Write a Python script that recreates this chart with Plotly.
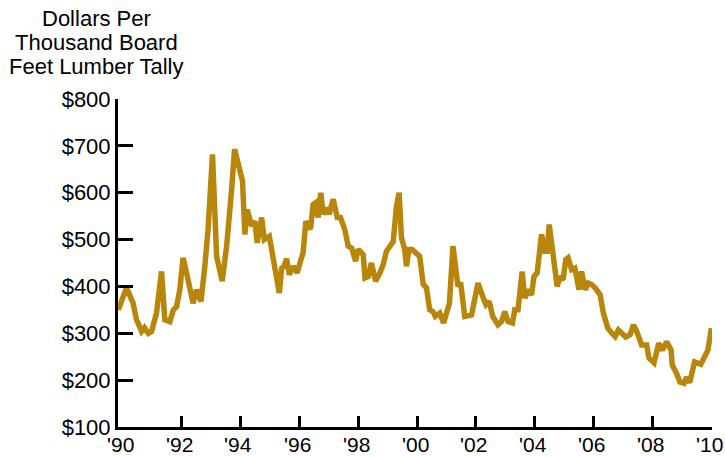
import plotly.graph_objects as go

# Decimal-year positions and lumber prices (dollars per thousand board feet)
years = [
    1989.85, 1990.13, 1990.35, 1990.47, 1990.64, 1990.74, 1990.87, 1990.98,
    1991.15, 1991.32, 1991.43, 1991.60, 1991.72, 1991.83, 1991.94,
    1992.05, 1992.17, 1992.28, 1992.39, 1992.51, 1992.66, 1992.79, 1992.90,
    1993.05, 1993.19, 1993.38, 1993.53, 1993.70, 1993.80,
    1994.07, 1994.15, 1994.23, 1994.38, 1994.49, 1994.57, 1994.72, 1994.81, 1994.98,
    1995.17, 1995.32, 1995.40, 1995.48, 1995.57, 1995.66, 1995.79, 1995.93,
    1996.02, 1996.13, 1996.22, 1996.38, 1996.47, 1996.56, 1996.64, 1996.73, 1996.81, 1996.92,
    1997.01, 1997.15, 1997.29, 1997.40, 1997.55, 1997.66, 1997.78, 1997.91,
    1998.00, 1998.17, 1998.23, 1998.34, 1998.45, 1998.59, 1998.74, 1998.85, 1998.96,
    1999.08, 1999.19, 1999.30, 1999.39, 1999.47, 1999.58, 1999.64, 1999.72, 1999.83, 1999.95,
    2000.09, 2000.21, 2000.32, 2000.43, 2000.54, 2000.62, 2000.77, 2000.90, 2000.99,
    2001.10, 2001.22, 2001.39, 2001.48, 2001.62, 2001.85,
    2002.07, 2002.25, 2002.34, 2002.45, 2002.57, 2002.75, 2002.87, 2002.98,
    2003.09, 2003.24, 2003.32, 2003.43, 2003.57, 2003.66, 2003.77, 2003.89, 2003.97,
    2004.08, 2004.23, 2004.34, 2004.42, 2004.49, 2004.68, 2004.76, 2004.85, 2004.96,
    2005.05, 2005.13, 2005.25, 2005.36, 2005.42, 2005.50, 2005.59, 2005.71, 2005.82, 2005.93,
    2006.05, 2006.22, 2006.33, 2006.48, 2006.62, 2006.73, 2006.84, 2006.96,
    2007.09, 2007.24, 2007.35, 2007.46, 2007.63, 2007.80, 2007.88,
    2008.05, 2008.21, 2008.33, 2008.48, 2008.63, 2008.67, 2008.82, 2008.93,
    2009.07, 2009.15, 2009.26, 2009.34, 2009.43, 2009.64, 2009.75, 2009.88, 2010.00,
]
prices = [
    350, 397, 365, 329, 304, 312, 300, 304,
    344, 432, 329, 325, 350, 357, 393,
    461, 429, 393, 364, 393, 368, 443, 522,
    682, 464, 411, 486, 607, 693,
    625, 511, 564, 529, 539, 493, 547, 500, 507,
    436, 386, 439, 443, 459, 425, 443, 429,
    450, 472, 539, 522, 575, 579, 547, 600, 554, 568,
    554, 586, 547, 547, 520, 486, 482, 454,
    479, 468, 418, 421, 450, 411, 429, 447, 475,
    489, 496, 571, 600, 504, 479, 443, 479, 479, 472,
    464, 404, 397, 350, 346, 336, 343, 322, 343,
    364, 486, 400, 408, 336, 339,
    407, 375, 361, 368, 336, 318, 325, 346,
    325, 322, 350, 350, 432, 375, 393, 382, 421,
    429, 511, 475, 475, 532, 421, 400, 421, 414,
    457, 461, 436, 439, 421, 393, 432, 393, 407, 404,
    397, 382, 343, 311, 300, 293, 307, 300,
    292, 297, 318, 304, 275, 275, 247,
    237, 279, 264, 282, 264, 232, 214, 196,
    193, 206, 195, 222, 239, 234, 247, 264, 311,
]

label_years = [1990, 1992, 1994, 1996, 1998, 2000, 2002, 2004, 2006, 2008, 2010]
label_text = ["'90", "'92", "'94", "'96", "'98", "'00", "'02", "'04", "'06", "'08", "'10"]
tick_years = [1992, 1994, 1996, 1998, 2000, 2002, 2004, 2006, 2008, 2010]
y_ticks = [100, 200, 300, 400, 500, 600, 700, 800]
y_text = ["$100", "$200", "$300", "$400", "$500", "$600", "$700", "$800"]
title_lines = ["Dollars Per", "Thousand Board", "Feet Lumber Tally"]

FONT = "Liberation Sans, Arial, Helvetica, sans-serif"
GOLD = "#B8860B"
X_RANGE = [1989.84, 2010.02]
PLOT_H = 327.4

fig = go.Figure()
fig.add_trace(go.Scatter(
    x=years, y=prices, mode="lines",
    line=dict(color=GOLD, width=5.5),
    hoverinfo="skip", showlegend=False,
))

fig.update_layout(
    width=725, height=457,
    margin=dict(l=118, r=13, t=99, b=30, autoexpand=False),
    paper_bgcolor="white", plot_bgcolor="white",
    font=dict(family=FONT, size=22, color="black"),
    xaxis=dict(
        range=X_RANGE, automargin=False,
        tickmode="array", tickvals=tick_years,
        ticks="inside", ticklen=11, tickwidth=3, tickcolor="black",
        showticklabels=False,
        showline=True, linewidth=3, linecolor="black",
        showgrid=False, zeroline=False,
    ),
    yaxis=dict(
        range=[100, 800], automargin=False,
        tickmode="array", tickvals=y_ticks, ticktext=y_text,
        ticks="inside", ticklen=15, tickwidth=3, tickcolor="black",
        showline=True, linewidth=3, linecolor="black",
        showgrid=False, zeroline=False,
        tickfont=dict(family=FONT, size=22, color="black"),
    ),
)

# x-axis year labels ('90 has no tick mark in the original)
for yr, txt in zip(label_years, label_text):
    fig.add_annotation(
        text=txt, xref="x", yref="paper", x=yr, y=(426.7 - 444.5) / PLOT_H,
        xanchor="center", yanchor="middle", xshift=-2, showarrow=False,
        font=dict(family=FONT, size=21, color="black"),
    )

centers_px = [18.5, 42.5, 66.5]
for txt, cy in zip(title_lines, centers_px):
    fig.add_annotation(
        text=txt, xref="paper", yref="paper",
        x=(96 - 118) / 594.3, y=1 + (99.3 - cy) / PLOT_H,
        xanchor="center", yanchor="middle", showarrow=False,
        font=dict(family=FONT, size=22, color="black"),
    )

fig.write_html(
    "out.html",
    config={"displayModeBar": False},
    post_script="document.body.style.margin='0px';document.body.style.padding='0px';",
)
